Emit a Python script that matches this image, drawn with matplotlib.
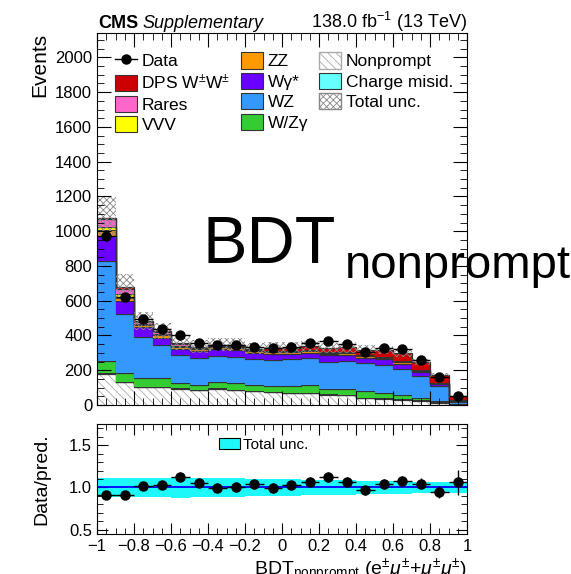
import numpy as np
import matplotlib
matplotlib.use("Agg")
import matplotlib.pyplot as plt
from matplotlib.ticker import MultipleLocator, FuncFormatter
from matplotlib.patches import Patch
from matplotlib.lines import Line2D

plt.rcParams['font.family'] = ['Liberation Sans', 'DejaVu Sans']
plt.rcParams['mathtext.fontset'] = 'custom'
plt.rcParams['mathtext.rm'] = 'Liberation Sans'
plt.rcParams['mathtext.it'] = 'Liberation Sans:italic'
plt.rcParams['hatch.linewidth'] = 0.6

# 20 bins of BDT_nonprompt from -1 to 1
edges = np.linspace(-1, 1, 21)

data = [975, 619, 493, 440, 403, 355, 345, 348, 336, 326,
        336, 359, 369, 353, 307, 330, 320, 259, 163, 52]

# background / signal predictions (stack order bottom -> top)
nonprompt = [178, 131, 102, 102, 94, 84, 95, 88, 78, 76,
             70, 70, 60, 56, 41, 37, 31, 25, 14, 4]
chargemisid = [5, 3, 2, 2, 2, 1, 1, 1, 1, 1,
               1, 1, 1, 1, 1, 1, 1, 1, 1, 0.5]
wzgamma = [71, 52, 53, 53, 31, 33, 34, 37, 38, 35,
           39, 47, 32, 38, 38, 30, 24, 13, 10, 3]
wz = [572, 340, 235, 189, 161, 155, 152, 148, 148, 148,
      153, 151, 157, 159, 160, 162, 150, 128, 82, 12]
wgstar = [144, 70, 58, 42, 33, 38, 38, 40, 34, 32,
          29, 33, 38, 34, 32, 33, 32, 22, 12, 4]
zz = [38, 22, 12, 14, 12, 10, 12, 14, 10, 12,
      12, 10, 8, 10, 8, 8, 8, 6, 5, 2]
vvv = [14, 18, 5, 5, 4, 3, 3, 3, 2, 3,
       2, 2, 2, 2, 2, 2, 2, 1, 1, 0.5]
rares = [48, 32, 12, 14, 12, 6, 5, 6, 5, 6,
         5, 5, 5, 5, 4, 4, 4, 3, 3, 1]
dps = [7, 9, 5, 6, 8, 6, 7, 9, 7, 15,
       17, 18, 24, 26, 32, 40, 46, 49, 44, 22]

# relative total uncertainty per bin
rel_unc = [0.11, 0.11, 0.11, 0.11, 0.12, 0.11, 0.11, 0.11, 0.10, 0.10,
           0.10, 0.09, 0.09, 0.09, 0.08, 0.08, 0.08, 0.07, 0.07, 0.07]

stack = [
    ("Nonprompt", nonprompt, "white"),
    ("Charge misid.", chargemisid, "#66ffff"),
    ("W/Zγ", wzgamma, "#33cc33"),
    ("WZ", wz, "#3399ff"),
    ("Wγ*", wgstar, "#6a00ff"),
    ("ZZ", zz, "#ff9900"),
    ("VVV", vvv, "#ffff00"),
    ("Rares", rares, "#ff66cc"),
    (r"DPS W$^{\pm}$W$^{\pm}$", dps, "#cc0000"),
]

data = np.array(data, dtype=float)
centers = 0.5 * (edges[1:] + edges[:-1])
halfw = 0.5 * (edges[1] - edges[0])

fig = plt.figure(figsize=(5.71, 5.74), dpi=100)
ax = fig.add_axes([0.170, 0.2944, 0.648, 0.648])
ax2 = fig.add_axes([0.170, 0.0697, 0.648, 0.1916])

bottom = np.zeros(len(data))
handles = {}
for name, vals, col in stack:
    vals = np.array(vals, dtype=float)
    top = bottom + vals
    if name == "Nonprompt":
        ax.stairs(top, edges, baseline=bottom, fill=True, facecolor="white",
                  edgecolor="#aaaaaa", hatch="\\\\\\\\", lw=0)
        handles[name] = Patch(facecolor="white", edgecolor="#aaaaaa", hatch="\\\\\\\\")
    else:
        ax.stairs(top, edges, baseline=bottom, fill=True, color=col, lw=0)
        handles[name] = Patch(facecolor=col, edgecolor="#333333", lw=0.8)
    ax.stairs(top, edges, baseline=None, color="#333333", lw=0.9)
    bottom = top
pred = bottom

# total uncertainty band
rel_unc = np.array(rel_unc)
ax.stairs(pred * (1 + rel_unc), edges, baseline=pred * (1 - rel_unc), fill=True,
          facecolor="none", edgecolor="#888888", hatch="xxxxx", lw=0)
handles["Total unc."] = Patch(facecolor="white", edgecolor="#888888", hatch="xxxxx")

ax.errorbar(centers, data, xerr=halfw, yerr=np.sqrt(data), fmt="o", color="black",
            ms=6.5, lw=1, capsize=0, zorder=5)
handles["Data"] = Line2D([], [], color="black", marker="o", ms=6.5, lw=1)

ax.set_xlim(-1, 1)
ax.set_ylim(0, 2140)
ax.yaxis.set_major_locator(MultipleLocator(200))
ax.yaxis.set_minor_locator(MultipleLocator(50))
ax.xaxis.set_major_locator(MultipleLocator(0.2))
ax.xaxis.set_minor_locator(MultipleLocator(0.05))
ax.tick_params(which="both", direction="in", top=True, right=True, labelsize=12)
ax.tick_params(which="major", length=10)
ax.tick_params(which="minor", length=5)
ax.tick_params(axis="x", labelbottom=False)
ax.set_ylabel("Events", fontsize=15, loc="top")

order = ["Data", r"DPS W$^{\pm}$W$^{\pm}$", "Rares", "VVV",
         "ZZ", "Wγ*", "WZ", "W/Zγ",
         "Nonprompt", "Charge misid.", "Total unc."]
ax.legend([handles[k] for k in order], order, ncol=3, loc="upper left",
          bbox_to_anchor=(0.005, 0.99), frameon=False, fontsize=12.5,
          handlelength=1.3, handleheight=1.05, handletextpad=0.25,
          columnspacing=0.6, labelspacing=0.2)

# ratio panel
ratio = data / pred
ratio_err = np.sqrt(data) / pred
ax2.stairs(1 + rel_unc, edges, baseline=1 - rel_unc, fill=True, color="#1ff8f8", lw=0)
ax2.axhline(1.0, color="#0000ff", lw=1.3)
ax2.errorbar(centers, ratio, xerr=halfw, yerr=ratio_err, fmt="o", color="black",
             ms=6.5, lw=1, capsize=0, zorder=5)
ax2.legend([Patch(facecolor="#1ff8f8", edgecolor="black", lw=0.8)], ["Total unc."],
           loc="upper center", bbox_to_anchor=(0.45, 1.0), frameon=False, fontsize=11,
           handlelength=1.4, handleheight=0.7, handletextpad=0.2)
ax2.set_xlim(-1, 1)
ax2.set_ylim(0.45, 1.75)
ax2.yaxis.set_major_locator(MultipleLocator(0.5))
ax2.yaxis.set_minor_locator(MultipleLocator(0.1))
ax2.xaxis.set_major_locator(MultipleLocator(0.2))
ax2.xaxis.set_minor_locator(MultipleLocator(0.05))
ax2.yaxis.set_major_formatter(FuncFormatter(lambda v, p: f"{v:.1f}"))
ax2.xaxis.set_major_formatter(
    FuncFormatter(lambda v, p: f"{round(v, 1) + 0.0:g}".replace("-", "\u2212")))
ax2.tick_params(which="both", direction="in", top=True, right=True, labelsize=12)
ax2.tick_params(which="major", length=8)
ax2.tick_params(which="minor", length=4)
ax2.set_ylabel("Data/pred.", fontsize=14)
ax2.yaxis.set_label_coords(-0.125, 0.5)
ax2.set_xlabel(r"BDT$_{\mathregular{nonprompt}}$ (e$^{\pm}\mu^{\pm}$+$\mu^{\pm}\mu^{\pm}$)",
               fontsize=14, loc="right", labelpad=2)

# header texts
fig.text(0.172, 0.952, "CMS", fontsize=13, fontweight="bold", va="baseline")
fig.text(0.250, 0.952, "Supplementary", fontsize=13, style="italic", va="baseline")
fig.text(0.818, 0.952, r"138.0 fb$^{-1}$ (13 TeV)", fontsize=13, ha="right", va="baseline")

# large overlaid label
fig.text(202 / 571, 1 - 263 / 574, "BDT", fontsize=48, va="baseline", zorder=20)
fig.text(345 / 571, 1 - 278 / 574, "nonprompt", fontsize=34, va="baseline", zorder=20)

fig.savefig("out.png", dpi=100)
